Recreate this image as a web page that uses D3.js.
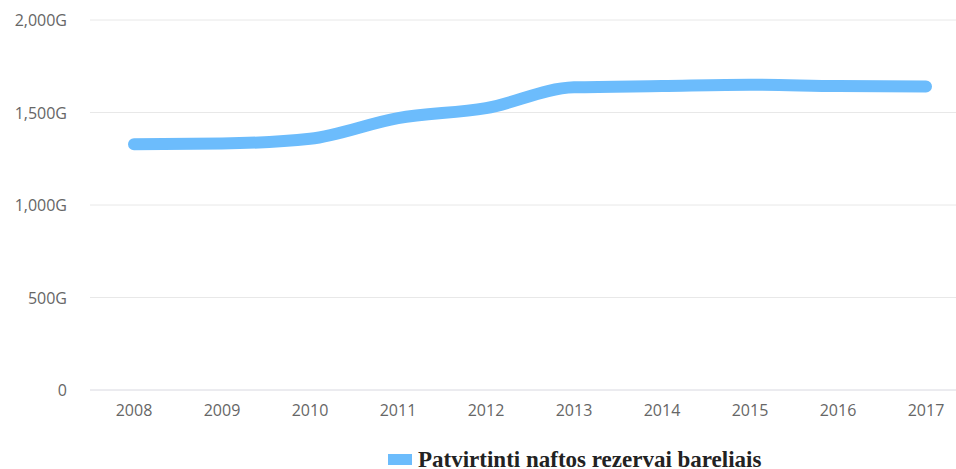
<!DOCTYPE html>
<html>
<head>
<script src="https://d3js.org/d3.v7.min.js"></script>
<style>
body { margin: 0; background: #fff; }
.tick text { font-family: "Open Sans", sans-serif; font-size: 16px; fill: #666; }
</style>
</head>
<body>
<svg width="956" height="469"></svg>
<script>
var years = ["2008","2009","2010","2011","2012","2013","2014","2015","2016","2017"];
var reserves = [1328, 1332, 1358, 1470, 1524, 1636, 1643, 1650, 1643, 1641];
var yTicks = [0, 500, 1000, 1500, 2000];
var seriesName = "Patvirtinti naftos rezervai bareliais";

var svg = d3.select("svg");
var plotLeft = 90, plotRight = 956, plotTop = 20, plotBottom = 390;

var x = d3.scaleBand().domain(years).range([plotLeft, plotLeft + 88 * years.length]);
var y = d3.scaleLinear().domain([0, 2000]).range([plotBottom, plotTop]);

// gridlines + y labels
var gy = svg.append("g");
gy.selectAll("line").data(yTicks).enter().append("line")
  .attr("x1", plotLeft).attr("x2", plotRight)
  .attr("y1", function(d) { return y(d); }).attr("y2", function(d) { return y(d); })
  .attr("stroke", function(d) { return d === 0 ? "#d8d8e0" : "#e8e8e8"; })
  .attr("stroke-width", 1);
gy.selectAll("text").data(yTicks).enter().append("text")
  .attr("x", 67).attr("y", function(d) { return y(d) + 6; })
  .attr("text-anchor", "end")
  .style("font-family", "'Open Sans', sans-serif").style("font-size", "16px").attr("fill", "#666")
  .text(function(d) { return d === 0 ? "0" : d3.format(",")(d) + "G"; });

// x axis labels
svg.append("g")
  .attr("transform", "translate(0," + plotBottom + ")")
  .call(d3.axisBottom(x).tickSize(0).tickPadding(15))
  .call(function(g) { g.select(".domain").remove(); });

// line
var line = d3.line()
  .x(function(d, i) { return x(years[i]) + x.bandwidth() / 2; })
  .y(function(d) { return y(d); })
  .curve(d3.curveMonotoneX);
svg.append("path")
  .datum(reserves)
  .attr("d", line)
  .attr("fill", "none")
  .attr("stroke", "#6cbcfc")
  .attr("stroke-width", 12)
  .attr("stroke-linecap", "round")
  .attr("stroke-linejoin", "round");

// legend
svg.append("rect").attr("x", 388).attr("y", 454).attr("width", 24).attr("height", 11).attr("fill", "#6cbcfc");
svg.append("text").attr("x", 418).attr("y", 467)
  .style("font-family", "'Liberation Serif', 'Times New Roman', serif")
  .style("font-size", "23px").style("font-weight", "bold").attr("fill", "#222")
  .text(seriesName);
</script>
</body>
</html>
